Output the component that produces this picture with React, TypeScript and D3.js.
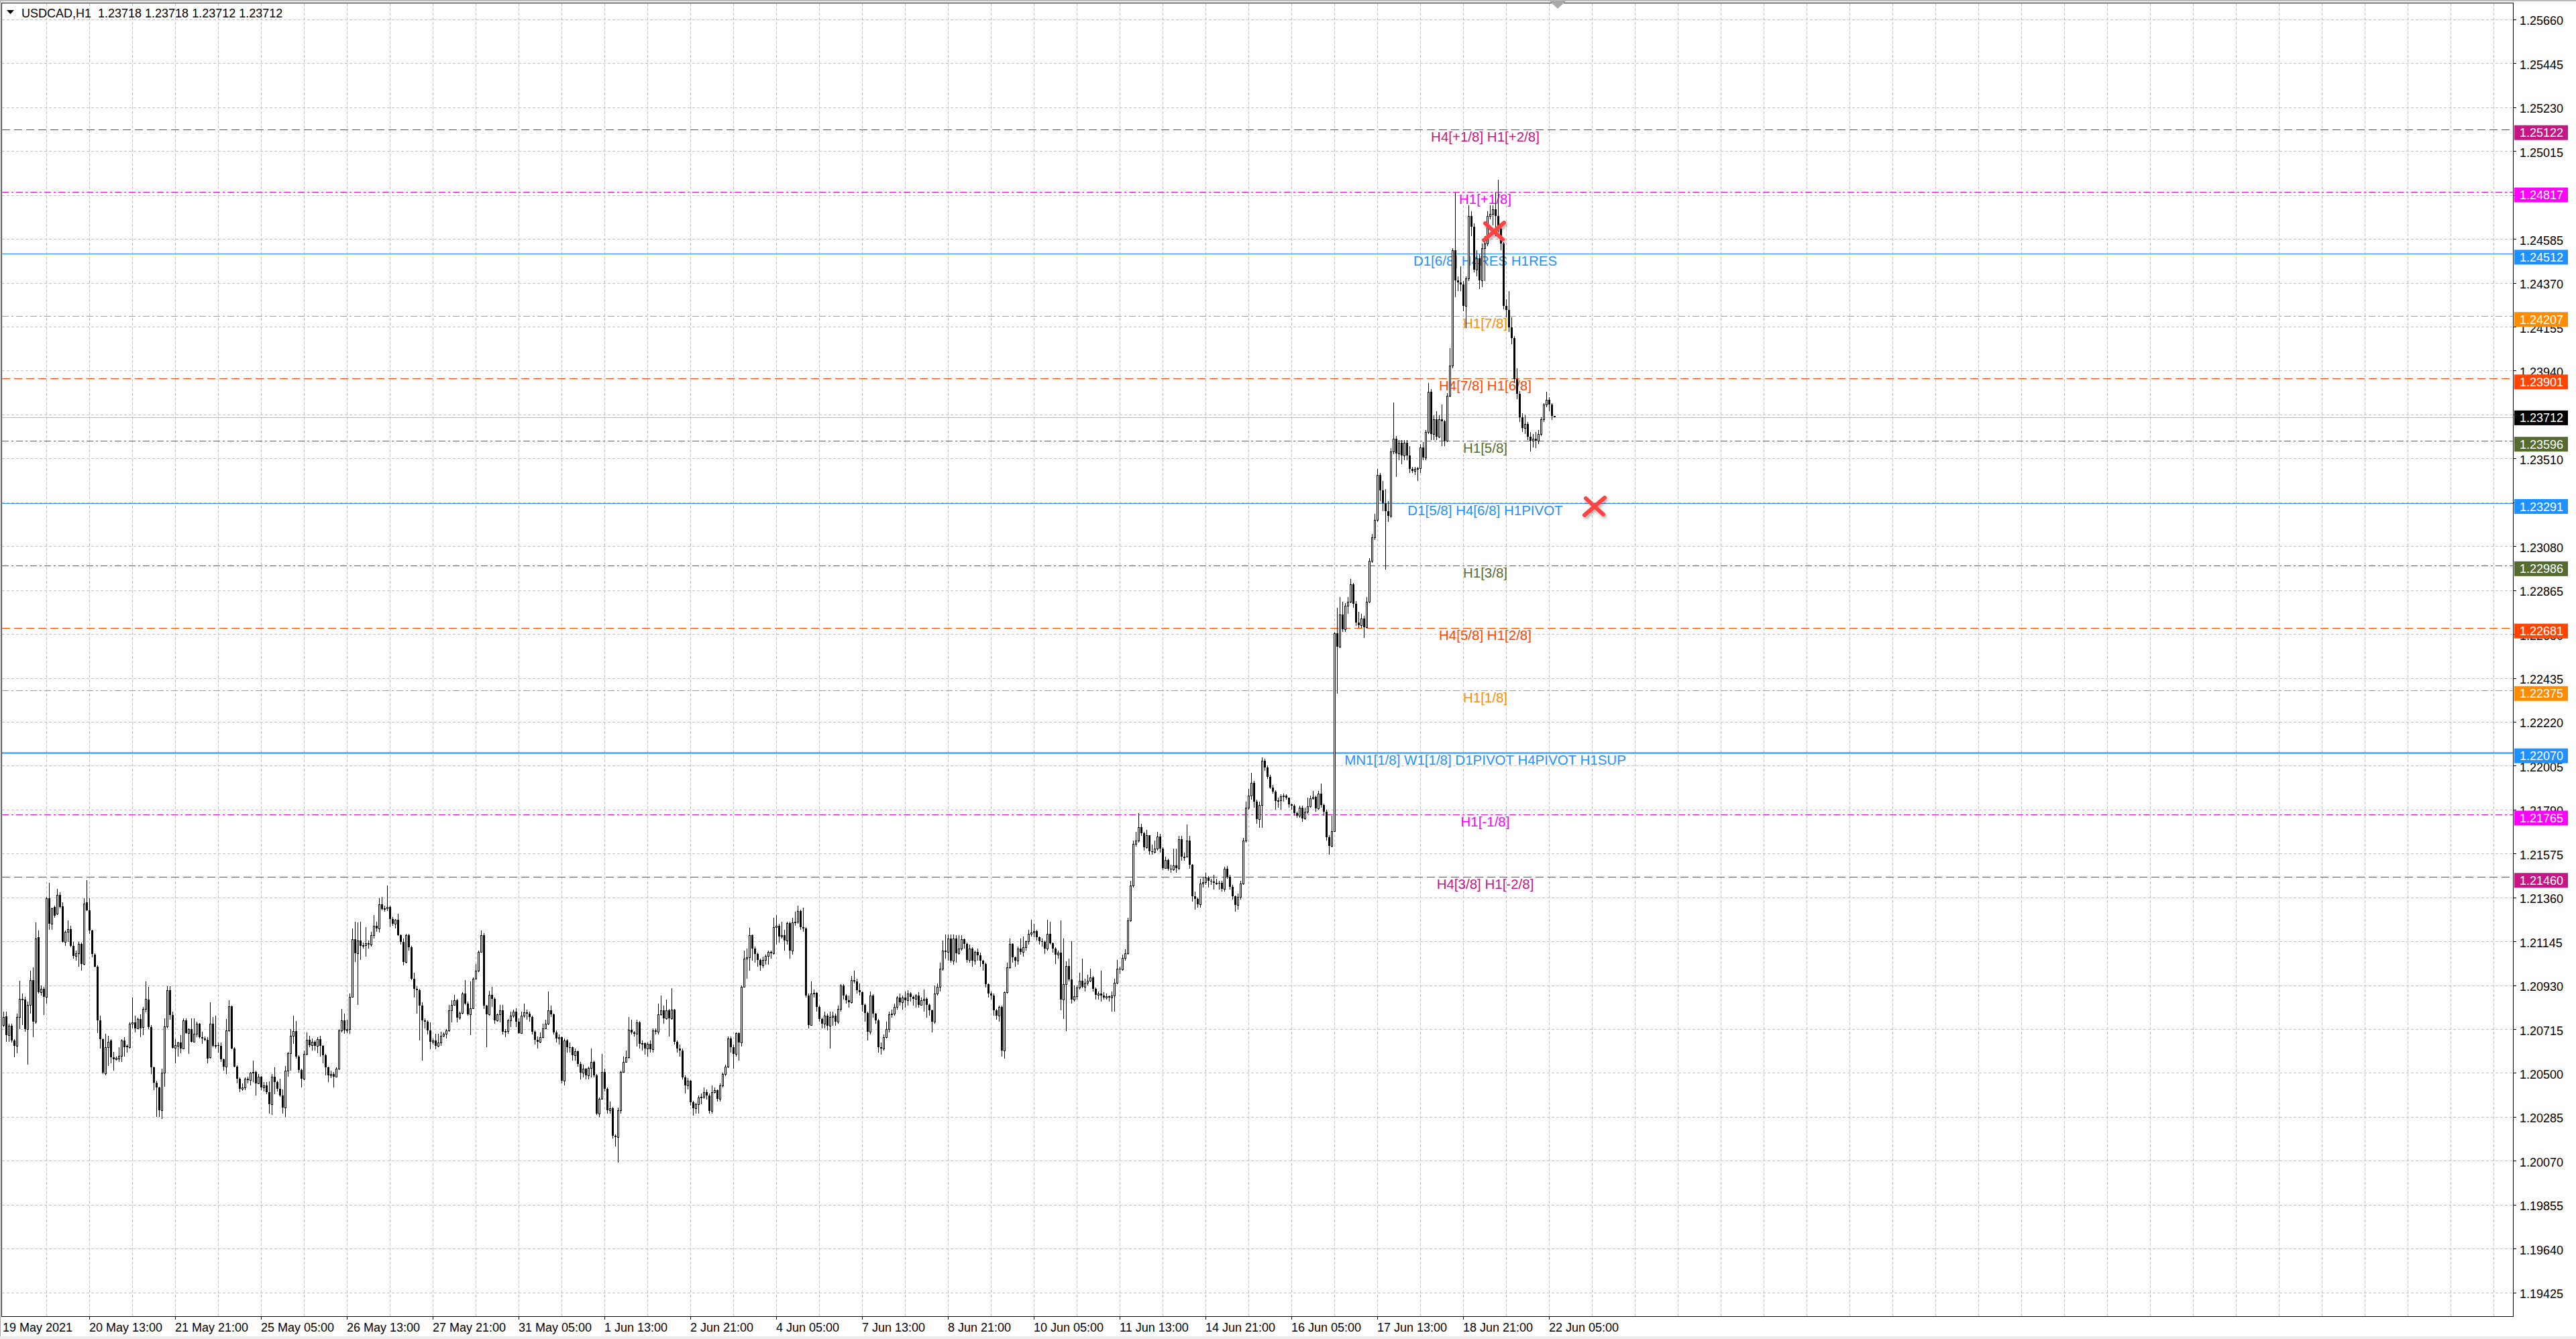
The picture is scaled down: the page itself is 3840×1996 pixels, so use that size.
import React, { useEffect } from "react";
import * as d3 from "d3";

const W = 3840;
const H = 1996;

const titleSymbol = "USDCAD,H1";
const titleValues = "1.23718 1.23718 1.23712 1.23712";

// OHLC in points: price = 1.2 + v / 100000 (bar 0 = 19 May 2021 05:00, H1)
const opens = [
736,778,686,730,659,632,774,862,860,714,835,956,752,1165,895,912,874,1355,1231,1314,
1280,1371,1316,1143,1193,1206,1121,1074,1088,1132,1033,1336,1297,1198,1080,1022,758,665,498,628,
659,577,566,571,584,659,632,626,741,749,720,766,725,813,860,725,527,452,428,318,
500,727,907,784,624,632,648,621,758,697,714,654,692,741,676,670,664,577,741,632,
637,632,566,532,709,826,621,532,472,422,428,472,466,500,505,450,483,428,439,406,
346,483,456,422,390,330,511,598,683,705,582,516,472,593,661,637,654,632,665,632,
588,527,489,494,483,522,709,758,709,714,874,1154,1088,1148,1121,1127,1137,1130,1176,1220,
1209,1325,1303,1308,1312,1253,1231,1251,1176,1143,1044,1176,1115,962,912,907,830,758,752,709,
654,658,632,648,681,692,709,807,835,857,770,793,890,840,786,818,962,1000,1093,1176,
830,786,884,862,758,786,807,703,705,758,780,802,752,697,
780,796,791,774,703,664,
653,676,720,741,807,786,698,670,676,461,659,628,626,588,606,544,500,520,489,524,
555,489,302,373,505,422,318,329,192,186,318,505,555,577,711,698,692,749,642,645,
620,642,615,709,703,786,807,769,807,769,810,653,620,610,478,439,461,357,329,346,
379,384,406,390,313,406,417,373,439,494,532,670,626,593,694,648,923,1060,1066,1176,
1110,1082,1055,1027,1055,1072,1093,1088,1214,1220,1170,1176,1149,1233,1099,1236,1242,1292,1214,1209,
879,736,890,892,824,764,741,780,731,774,780,752,813,928,879,857,845,956,950,906,
895,835,793,703,881,791,758,626,620,676,714,786,791,824,868,846,868,857,890,873,
862,879,835,857,862,835,807,752,890,923,1011,1099,1093,1159,1049,1159,1088,1110,1154,1132,
1055,1110,1049,1093,1077,1049,1033,934,890,879,807,780,824,609,895,1016,1132,1066,1049,1110,
1093,1117,1147,1182,1188,1194,1164,1147,1143,1111,1182,1135,1111,1080,1091,859,935,1023,959,859,
876,918,953,923,941,953,967,912,882,888,880,871,876,871,880,941,1012,1006,1064,1088,
1247,1417,1622,1640,1705,1675,1605,1664,1587,1581,1599,1658,1599,1505,1543,1499,1497,1517,1505,1644,
1558,1561,1640,1519,1366,1352,1326,1429,1435,1458,1440,1437,1431,1432,1431,1402,1499,1460,1411,1366,
1323,1362,1429,1637,1801,1857,1922,1828,1742,1811,2028,1998,1952,1899,1879,1832,1836,1855,1860,1848,
1816,1810,1773,1761,1799,1746,1781,1805,1846,1852,1796,1867,1813,1781,1655,1613,1683,2652,2589,2746,
2673,2788,2809,2893,2799,2705,2694,2726,2684,2809,3009,3124,3208,3428,3355,3292,3250,3229,3544,3607,
3533,3586,3523,3586,3523,3460,3450,3460,3462,3565,3513,3638,3838,3628,3701,3617,3701,3691,3596,3817,
3963,4530,4383,4372,4362,4257,4393,4698,4645,4435,4490,4383,4540,4561,4698,4708,4729,4698,4635,4561,
4257,4236,4152,4100,3900,3827,3712,3659,3680,3617,3596,3607,3596,3628,3701,3775,3796,3775,3718,
];

const highs = [
802,802,740,740,665,791,953,890,873,850,1000,1016,1236,1198,930,923,1363,1431,1310,1320,
1402,1385,1335,1198,1247,1220,1143,1100,1143,1138,1357,1446,1357,1203,1088,1028,780,670,692,681,
665,604,580,626,665,676,640,747,868,780,770,786,824,950,923,736,532,461,433,520,
769,924,924,800,665,654,687,769,769,720,769,769,752,745,703,680,676,846,775,780,
650,648,572,764,857,830,626,538,478,450,478,483,505,560,510,494,486,455,455,460,
494,527,461,472,420,533,604,714,780,753,588,522,609,698,681,670,658,676,681,637,
593,532,510,505,527,714,813,791,760,890,1209,1242,1236,1242,1140,1214,1150,1190,1275,1240,
1357,1363,1320,1418,1319,1264,1253,1281,1180,1160,1182,1182,1121,990,924,912,846,769,758,747,
670,692,692,703,700,714,835,857,884,862,800,895,956,851,950,967,1035,1099,1198,1184,
835,901,923,868,790,835,835,714,764,802,810,818,769,800,
840,810,800,780,710,680,
700,740,760,900,830,790,710,690,680,670,665,650,630,620,610,555,540,525,530,620,
560,494,380,593,520,430,360,335,200,330,510,580,610,775,760,705,760,755,660,650,
650,660,720,720,840,880,830,860,815,917,815,660,640,620,490,475,465,365,355,390,
400,430,420,400,440,430,420,450,500,540,680,680,640,700,700,930,1100,1110,1210,1180,
1120,1090,1060,1070,1080,1100,1100,1260,1275,1230,1240,1200,1240,1240,1260,1290,1320,1300,1310,1214,
890,950,910,895,830,770,800,790,800,800,790,830,935,935,885,880,975,1000,960,940,
900,840,800,900,885,795,765,650,690,750,800,810,840,875,890,880,900,905,895,880,
885,895,870,910,870,840,810,930,940,1040,1150,1180,1180,1180,1180,1175,1175,1175,1160,1140,
1130,1115,1100,1110,1090,1055,1040,940,900,890,815,830,830,900,1040,1160,1135,1070,1120,1160,
1170,1150,1200,1250,1230,1200,1170,1160,1150,1252,1240,1140,1115,1100,1249,1158,1047,1060,1147,930,
930,990,1060,960,980,1010,975,920,900,1000,895,890,880,900,960,1053,1020,1080,1105,1260,
1440,1640,1681,1773,1720,1680,1690,1665,1620,1640,1681,1670,1605,1560,1550,1520,1600,1600,1660,1660,
1580,1716,1660,1525,1390,1360,1450,1460,1480,1465,1450,1470,1450,1440,1440,1510,1514,1470,1420,1370,
1380,1440,1650,1830,1890,1970,1930,1840,1830,2046,2040,2005,1960,1910,1885,1850,1865,1870,1865,1850,
1820,1815,1780,1810,1810,1800,1850,1860,1880,1860,1880,1919,1820,1790,1665,1760,2660,2778,2830,2809,
2800,2830,2920,2900,2810,2760,2750,2740,2830,3020,3140,3240,3460,3440,3400,3360,3300,3560,3785,3620,
3600,3600,3600,3600,3570,3470,3470,3470,3580,3590,3650,3880,3850,3720,3740,3720,3775,3700,3830,4050,
4540,4813,4400,4450,4380,4400,4750,4720,4660,4530,4510,4561,4600,4720,4750,4750,4813,4876,4660,4570,
4290,4330,4200,4110,3950,3840,3730,3720,3690,3640,3630,3640,3650,3710,3780,3838,3810,3780,3718,
];

const lows = [
725,653,653,650,577,598,714,736,703,540,790,675,742,890,880,785,840,1203,1203,1260,
1275,1308,1138,1121,1143,1115,1060,1050,1022,1000,1028,1292,1182,1066,1016,697,620,494,489,533,
549,511,560,555,555,582,600,620,720,700,715,676,686,797,714,494,417,285,285,274,
433,720,760,620,549,582,598,615,692,593,650,650,676,670,642,655,549,571,626,620,
600,555,511,494,703,615,527,450,406,412,417,450,439,455,390,445,417,410,395,302,
296,395,410,384,300,285,483,511,643,571,500,428,467,588,626,610,610,598,582,549,
489,456,475,428,480,516,698,692,695,692,868,1044,835,1055,1110,1071,1110,1120,1160,1190,
1187,1297,1290,1292,1215,1220,1209,1171,1130,1027,1038,1100,956,868,791,659,560,720,690,615,
640,615,626,632,675,670,703,747,830,747,760,786,835,780,687,813,960,995,1090,813,
626,780,824,742,750,747,690,676,692,725,770,725,692,692,
770,760,750,690,640,620,
645,670,715,735,775,690,650,640,450,440,600,600,560,560,530,470,480,470,470,480,
480,295,285,370,410,300,300,180,140,60,300,500,550,570,690,680,630,620,610,590,
580,600,600,690,690,780,740,760,680,760,640,600,580,470,400,420,340,290,300,300,
346,373,370,300,300,400,360,360,430,485,525,600,520,580,560,630,920,960,1000,1050,
1040,1020,1000,1015,1030,1030,1060,1080,1130,1140,1160,1100,1130,1060,1080,1220,1230,1200,1190,870,
720,730,870,800,750,720,720,710,620,730,730,740,800,860,840,820,840,940,890,880,
800,750,660,690,770,740,600,590,610,670,700,770,780,810,830,810,820,830,850,830,
820,820,830,800,770,780,700,740,880,900,1000,1060,1050,1040,1030,1040,1080,1100,1110,1040,
1040,1020,1030,1050,1020,1000,920,870,860,780,760,750,580,570,890,1010,1040,1020,1030,1080,
1070,1100,1130,1170,1165,1150,1130,1120,1082,1100,1130,1090,1035,1060,806,765,706,950,840,850,
860,910,915,900,930,945,900,860,860,850,860,860,850,800,800,935,985,1000,1050,1080,
1240,1410,1610,1630,1660,1590,1600,1570,1570,1575,1590,1580,1495,1500,1490,1480,1490,1480,1495,1540,
1540,1555,1500,1340,1300,1310,1310,1410,1420,1410,1420,1400,1420,1400,1390,1390,1450,1400,1350,1290,
1300,1350,1420,1630,1790,1840,1800,1720,1700,1700,1980,1940,1890,1870,1790,1800,1790,1830,1840,1800,
1790,1760,1750,1750,1730,1740,1770,1800,1840,1780,1790,1800,1760,1640,1570,1605,1680,2358,2580,2660,
2660,2750,2800,2780,2690,2680,2680,2630,2680,2800,3000,3110,3200,3300,3250,2967,3200,3220,3530,3418,
3500,3480,3500,3500,3440,3439,3430,3400,3440,3500,3500,3630,3600,3600,3600,3610,3570,3570,3590,3810,
3950,4300,4330,4330,4230,4150,4380,4600,4420,4400,4340,4350,4380,4550,4680,4650,4600,4620,4530,4240,
4200,4130,4070,3880,3800,3690,3640,3630,3600,3544,3565,3560,3580,3620,3690,3760,3740,3700,3712,
];

const closes = [
774,686,730,659,632,774,862,857,714,835,956,752,1160,895,912,874,1357,1231,1308,1270,
1371,1314,1143,1193,1206,1121,1074,1088,1132,1033,1330,1297,1198,1083,1022,758,665,500,628,654,
577,566,573,584,659,628,626,741,749,720,766,720,815,862,725,527,452,428,318,500,
727,907,784,624,637,648,621,758,697,714,654,692,741,676,670,664,571,741,632,635,
632,566,532,709,826,621,532,472,422,428,472,466,500,505,450,483,428,439,406,346,
483,456,422,390,330,511,598,683,705,582,516,472,593,661,637,654,632,665,632,588,
527,489,494,483,522,709,758,709,714,874,1154,1088,1148,1121,1127,1137,1130,1176,1220,1209,
1325,1303,1308,1312,1253,1231,1251,1176,1143,1044,1176,1115,962,912,907,830,758,752,709,654,
658,632,648,681,692,709,807,835,857,770,793,890,840,786,818,962,1000,1093,1176,830,
786,884,862,758,786,807,703,705,758,780,802,752,697,780,
796,791,774,703,664,653,
676,720,741,807,786,698,670,676,461,659,628,626,588,606,544,500,520,489,524,555,
489,302,373,505,422,318,329,192,186,318,505,555,577,711,698,692,749,642,645,620,
642,615,709,703,786,807,769,807,769,810,653,620,610,478,439,461,357,329,346,379,
384,406,390,313,406,417,373,439,494,532,670,626,593,694,648,923,1060,1066,1176,1110,
1082,1055,1027,1055,1072,1093,1088,1214,1220,1170,1176,1149,1233,1099,1236,1242,1292,1214,1209,879,
736,890,892,824,764,741,780,731,774,780,752,813,928,879,857,845,956,950,906,895,
835,793,703,881,791,758,626,620,676,714,786,791,824,868,846,868,857,890,873,862,
879,835,857,862,835,807,752,890,923,1011,1099,1093,1159,1049,1159,1088,1110,1154,1132,1055,
1110,1049,1093,1077,1049,1033,934,890,879,807,780,824,609,895,1016,1132,1066,1049,1110,1093,
1117,1147,1182,1188,1194,1164,1147,1143,1111,1182,1135,1111,1080,1091,859,935,1023,959,859,876,
918,953,923,941,953,967,912,882,888,880,871,876,871,880,941,1012,1006,1064,1088,1247,
1417,1622,1640,1705,1675,1605,1664,1587,1581,1599,1658,1599,1505,1543,1499,1497,1517,1505,1644,1558,
1561,1640,1519,1366,1352,1326,1429,1435,1458,1440,1437,1431,1432,1431,1402,1499,1460,1411,1366,1323,
1362,1429,1637,1801,1857,1922,1828,1742,1811,2028,1998,1952,1899,1879,1832,1836,1855,1860,1848,1816,
1810,1773,1761,1799,1746,1781,1805,1846,1852,1796,1867,1813,1781,1655,1613,1683,2652,2589,2746,2673,
2788,2809,2893,2799,2705,2694,2726,2684,2809,3009,3124,3208,3428,3355,3292,3250,3229,3544,3607,3533,
3586,3523,3586,3523,3460,3450,3460,3462,3565,3513,3638,3838,3628,3701,3617,3701,3691,3596,3817,3963,
4530,4383,4372,4362,4257,4393,4698,4645,4435,4490,4383,4540,4561,4698,4708,4729,4698,4635,4561,4257,
4236,4152,4100,3900,3827,3712,3659,3680,3617,3596,3607,3596,3628,3701,3775,3796,3775,3718,3712,
];

const priceTicks = [
  "1.25660","1.25445","1.25230","1.25015","1.24800","1.24585","1.24370","1.24155","1.23940","1.23725",
  "1.23510","1.23295","1.23080","1.22865","1.22650","1.22435","1.22220","1.22005","1.21790","1.21575",
  "1.21360","1.21145","1.20930","1.20715","1.20500","1.20285","1.20070","1.19855","1.19640","1.19425",
];

const timeLabels = [
  "19 May 2021","20 May 13:00","21 May 21:00","25 May 05:00","26 May 13:00","27 May 21:00",
  "31 May 05:00","1 Jun 13:00","2 Jun 21:00","4 Jun 05:00","7 Jun 13:00","8 Jun 21:00",
  "10 Jun 05:00","11 Jun 13:00","14 Jun 21:00","16 Jun 05:00","17 Jun 13:00","18 Jun 21:00","22 Jun 05:00",
];
const timeLabelBars = [0,32,64,96,128,160,192,224,256,288,320,352,384,416,448,480,512,544,576];

const levelPrices = [1.25122,1.24817,1.24512,1.24207,1.23901,1.23596,1.23291,1.22986,1.22681,1.22375,1.22070,1.21765,1.21460];
const levelTexts = [
  "H4[+1/8] H1[+2/8]","H1[+1/8]","D1[6/8] H4RES H1RES","H1[7/8]","H4[7/8] H1[6/8]","H1[5/8]",
  "D1[5/8] H4[6/8] H1PIVOT","H1[3/8]","H4[5/8] H1[2/8]","H1[1/8]",
  "MN1[1/8] W1[1/8] D1PIVOT H4PIVOT H1SUP","H1[-1/8]","H4[3/8] H1[-2/8]",
];
const levelKinds = ["vr","mg","bl","dor","ord","olv","bl","olv","ord","dor","bl2","mg","vr"];
const levelPriceLabels = ["1.25122","1.24817","1.24512","1.24207","1.23901","1.23596","1.23291","1.22986","1.22681","1.22375","1.22070","1.21765","1.21460"];

const lastPrice = 1.23712;
const lastPriceLabel = "1.23712";

const crossBars = [555.5, 593];
const crossPrices = [1.24622, 1.23275];

// ---- styles ----
const kindStyle: Record<string, { color: string; dash: string | undefined; width: number }> = {
  vr: { color: "#C71585", dash: "12,6", width: 1.2 },
  mg: { color: "#FF00FF", dash: "10,4,3,4", width: 1.2 },
  bl: { color: "#1E90FF", dash: undefined, width: 1.2 },
  bl2: { color: "#1E90FF", dash: undefined, width: 2 },
  dor: { color: "#FF8C00", dash: "10,4,3,4", width: 1.2 },
  ord: { color: "#FF4500", dash: "12,6", width: 1.2 },
  olv: { color: "#556B2F", dash: "10,4,3,4", width: 1.2 },
};

const FONT = "'Liberation Sans', Arial, 'DejaVu Sans', sans-serif";
const PLOT_L = 3;
const PLOT_R = 3746;
const PLOT_T = 4;
const PLOT_B = 1962;
const LABEL_BAR = 552.25;
const SHIFT_BAR = 579.25;

export default function App() {
  useEffect(() => {
    document.body.style.margin = "0";
    document.body.style.overflow = "hidden";
  }, []);

  const n = Math.min(opens.length, highs.length, lows.length, closes.length);
  const bars = d3.range(n).map((i) => ({
    i,
    o: 1.2 + opens[i] / 1e5,
    h: 1.2 + highs[i] / 1e5,
    l: 1.2 + lows[i] / 1e5,
    c: 1.2 + closes[i] / 1e5,
  }));

  const y = d3.scaleLinear().domain([1.19309, 1.25742]).range([PLOT_B, PLOT_T]);
  const x = d3.scaleLinear().domain([0, 935]).range([5, 3745]);

  const tickVals = priceTicks.map((t) => +t);
  const gridBars = d3.range(16, 936, 16).filter((b) => x(b) < PLOT_R - 1);

  return (
    <div style={{ position: "absolute", left: 0, top: 0, width: W, height: H }}>
      <svg width={W} height={H} viewBox={`0 0 ${W} ${H}`} style={{ display: "block" }} fontFamily={FONT}>
        <defs>
          <filter id="xshadow" x="-50%" y="-50%" width="200%" height="200%">
            <feDropShadow dx="2" dy="3" stdDeviation="2" floodColor="#000" floodOpacity="0.3" />
          </filter>
        </defs>
        <rect x={0} y={0} width={W} height={H} fill="#ffffff" />
        <rect x={0} y={0} width={W} height={2} fill="#B9B9B9" />
        <rect x={0} y={H - 4} width={W} height={4} fill="#EDEDED" />

        {/* grid */}
        <g shapeRendering="crispEdges">
          {tickVals.map((p, k) => (
            <line key={"hg" + k} x1={PLOT_L} x2={PLOT_R} y1={Math.round(y(p)) + 0.5} y2={Math.round(y(p)) + 0.5}
              stroke="#C3C3C3" strokeWidth={1} strokeDasharray="4,3" />
          ))}
          {gridBars.map((b) => (
            <line key={"vg" + b} x1={Math.round(x(b)) + 0.5} x2={Math.round(x(b)) + 0.5} y1={PLOT_T + 1} y2={PLOT_B}
              stroke="#C3C3C3" strokeWidth={1} strokeDasharray="4,3" />
          ))}
        </g>

        {/* level lines */}
        <g>
          {levelPrices.map((p, k) => {
            const st = kindStyle[levelKinds[k]];
            const yy = Math.round(y(p)) + 0.5;
            return (
              <line key={"lv" + k} x1={PLOT_L} x2={PLOT_R} y1={yy} y2={yy} stroke={st.color}
                strokeWidth={st.width} strokeDasharray={st.dash} />
            );
          })}
          <line x1={PLOT_L} x2={PLOT_R} y1={Math.round(y(lastPrice)) + 0.5} y2={Math.round(y(lastPrice)) + 0.5}
            stroke="#BDBDBD" strokeWidth={1} />
        </g>

        {/* level texts */}
        <g fontSize={20.5} textAnchor="middle">
          {levelPrices.map((p, k) => (
            <text key={"lt" + k} x={x(LABEL_BAR)} y={y(p) + 18} fill={kindStyle[levelKinds[k]].color}>
              {levelTexts[k]}
            </text>
          ))}
        </g>

        {/* candles */}
        <g shapeRendering="crispEdges">
          {bars.map((b) => {
            const cx = Math.round(x(b.i));
            const yh = Math.round(y(b.h));
            const yl = Math.round(y(b.l));
            const yo = Math.round(y(b.o));
            const yc = Math.round(y(b.c));
            const top = Math.min(yo, yc);
            const bot = Math.max(yo, yc);
            const bull = b.c >= b.o;
            return (
              <g key={"c" + b.i}>
                <rect x={cx} y={yh} width={1} height={Math.max(yl - yh, 1)} fill="#000" />
                {bull ? (
                  <rect x={cx - 0.5} y={top + 0.5} width={2} height={Math.max(bot - top, 1)} fill="#fff" stroke="#000" strokeWidth={1} />
                ) : (
                  <rect x={cx - 1} y={top} width={3} height={Math.max(bot - top, 1)} fill="#000" />
                )}
              </g>
            );
          })}
        </g>

        {/* crosses */}
        <g filter="url(#xshadow)" stroke="#FF4242" strokeWidth={6} strokeLinecap="round">
          {crossBars.map((cb, k) => {
            const cx = x(cb);
            const cy = y(crossPrices[k]);
            return (
              <g key={"x" + k}>
                <line x1={cx - 15} y1={cy + 13} x2={cx + 15} y2={cy - 13} />
                <line x1={cx - 13} y1={cy - 12} x2={cx + 13} y2={cy + 12} />
              </g>
            );
          })}
        </g>

        {/* frame */}
        <g shapeRendering="crispEdges" stroke="#000" strokeWidth={1}>
          <line x1={PLOT_L - 0.5} x2={PLOT_R + 0.5} y1={PLOT_T + 0.5} y2={PLOT_T + 0.5} />
          <line x1={PLOT_L - 0.5} x2={PLOT_R + 0.5} y1={PLOT_B + 0.5} y2={PLOT_B + 0.5} />
          <line x1={PLOT_L - 0.5} x2={PLOT_L - 0.5} y1={PLOT_T} y2={PLOT_B + 1} />
          <line x1={PLOT_R + 0.5} x2={PLOT_R + 0.5} y1={PLOT_T} y2={PLOT_B + 1} />
          <line x1={0.5} x2={0.5} y1={2} y2={H - 4} stroke="#A8A8A8" />
          {tickVals.map((p, k) => (
            <line key={"pt" + k} x1={PLOT_R + 1} x2={PLOT_R + 5} y1={Math.round(y(p)) + 0.5} y2={Math.round(y(p)) + 0.5} />
          ))}
          {timeLabelBars.slice(1).map((b) => (
            <line key={"tt" + b} x1={Math.round(x(b)) + 0.5} x2={Math.round(x(b)) + 0.5} y1={PLOT_B + 1} y2={PLOT_B + 5} />
          ))}
        </g>

        {/* chart shift marker */}
        <polygon points={`${x(SHIFT_BAR) - 13},1 ${x(SHIFT_BAR) + 13},1 ${x(SHIFT_BAR)},13`} fill="#A9A9A9" />

        {/* price axis labels */}
        <g fontSize={18} fill="#000">
          {priceTicks.map((t, k) => (
            <text key={"pl" + k} x={3756} y={y(tickVals[k]) + 8.5}>{t}</text>
          ))}
        </g>

        {/* level price boxes */}
        <g fontSize={18}>
          {levelPrices.map((p, k) => {
            const cy = y(p) + 5;
            return (
              <g key={"pb" + k}>
                <rect x={3748} y={cy - 11} width={80} height={22} fill={kindStyle[levelKinds[k]].color} />
                <text x={3756} y={cy + 6.5} fill="#fff">{levelPriceLabels[k]}</text>
              </g>
            );
          })}
          <rect x={3748} y={y(lastPrice) + 1 - 11} width={80} height={22} fill="#000" />
          <text x={3756} y={y(lastPrice) + 1 + 6.5} fill="#fff">{lastPriceLabel}</text>
        </g>

        {/* time axis labels */}
        <g fontSize={18} fill="#000">
          {timeLabels.map((t, k) => (
            <text key={"tl" + k} x={k === 0 ? 4 : x(timeLabelBars[k])} y={1985}>{t}</text>
          ))}
        </g>

        {/* title */}
        <polygon points="10,15 21,15 15.5,21" fill="#000" />
        <text x={32} y={26} fontSize={18} fill="#000">{titleSymbol}</text>
        <text x={146} y={26} fontSize={18} fill="#000">{titleValues}</text>
      </svg>
    </div>
  );
}
